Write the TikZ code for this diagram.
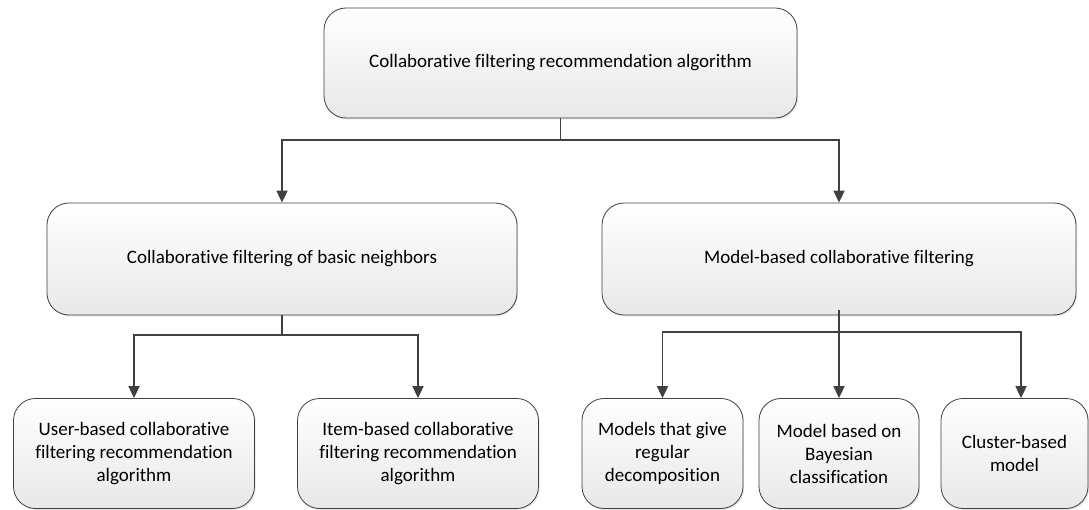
\documentclass[tikz,border=0pt]{standalone}
\usepackage{fontspec}
\setmainfont{Carlito}[Ligatures=NoCommon]
\usetikzlibrary{arrows.meta, positioning, shadows}

\begin{document}
\begin{tikzpicture}[
        x=1pt, y=-1pt,
        box/.style={rectangle, draw=black!75, line width=0.8pt, rounded corners=22pt, top color=white, bottom color=black!9, font=\fontsize{19}{23}\selectfont, align=center, inner sep=0pt, minimum height=110pt, drop shadow={opacity=0.2, shadow xshift=1.2pt, shadow yshift=-1.5pt}},
        link/.style={draw=black!75, line width=1.8pt, -{Triangle[length=12pt, width=11pt]}}
    ]
        \useasboundingbox (0,0) rectangle (1089,510);

        % Root
        \node[box, minimum width=473pt] (cfra) at (560.5, 63) {Collaborative filtering recommendation algorithm};

        % Two families
        \node[box, minimum width=470pt, minimum height=112pt] (nbr) at (282, 259) {Collaborative filtering of basic neighbors};
        \node[box, minimum width=474pt, minimum height=112pt] (mdl) at (839, 259) {Model-based collaborative filtering};

        % Neighbour-based methods
        \node[box, minimum width=241pt] (usr) at (134, 453.5) {User-based collaborative\\filtering recommendation\\algorithm};
        \node[box, minimum width=241pt] (itm) at (418, 453.5) {Item-based collaborative\\filtering recommendation\\algorithm};

        % Model-based methods
        \node[box, minimum width=161pt] (dec) at (662.5, 453.5) {Models that give\\regular\\decomposition};
        \node[box, minimum width=160pt] (bay) at (839, 453.5) {Model based on\\Bayesian\\classification};
        \node[box, minimum width=147pt] (clu) at (1014.5, 453.5) {Cluster-based\\model};

        % Arrows
        \draw[line width=1.8pt, draw=black!75] (cfra.south) -- ++(0,22) coordinate (j1);
        \draw[link] (j1) -| (nbr);
        \draw[link] (j1) -| (mdl);

        \draw[line width=1.8pt, draw=black!75] (nbr.south) -- ++(0,20) coordinate (j2);
        \draw[link] (j2) -| (usr);
        \draw[link] (j2) -| (itm);

        \path (mdl.south) ++(0,17) coordinate (j3);
        \draw[link] (j3) -| (dec);
        \draw[link] (j3) -| ([xshift=6.5pt]clu.north);
        \draw[link] ([yshift=5pt]mdl.south) -- (bay);
    \end{tikzpicture}
\end{document}
